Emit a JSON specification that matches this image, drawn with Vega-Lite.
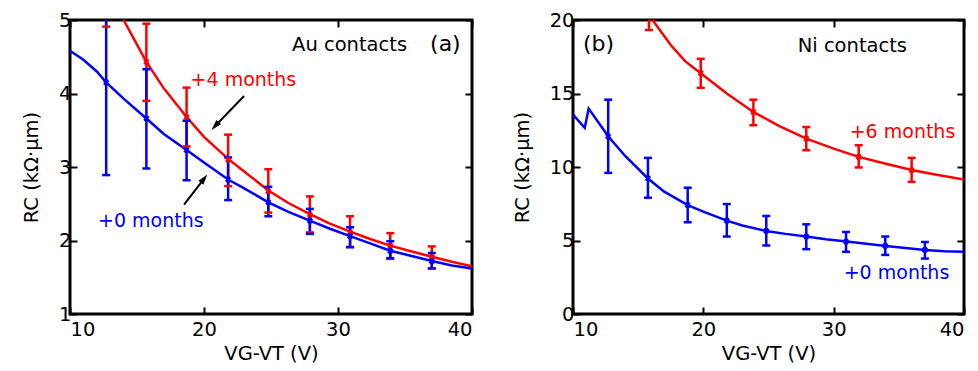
{
  "$schema": "https://vega.github.io/schema/vega-lite/v6.json",
  "padding": {"left": 20, "top": 8, "right": 5, "bottom": 5},
  "background": "white",
  "config": {
    "font": "DejaVu Sans",
    "view": {"stroke": "black", "strokeWidth": 3},
    "axis": {
      "domain": false, "grid": false,
      "tickSize": -7, "tickWidth": 2, "tickColor": "black",
      "labelFont": "DejaVu Sans", "labelFontSize": 19.5, "labelColor": "black", "labelPadding": 6,
      "titleFont": "DejaVu Sans", "titleFontSize": 19.5, "titleFontWeight": "normal", "titleColor": "black"
    },
    "axisBottom": {"labelPadding": 13},
    "concat": {"spacing": 101}
  },
  "datasets": {
    "aline": [
      {"s": "+4 months", "x": 13, "y": 5.35}, {"s": "+4 months", "x": 14, "y": 5.0}, {"s": "+4 months", "x": 15.7, "y": 4.43},
      {"s": "+4 months", "x": 17, "y": 4.07}, {"s": "+4 months", "x": 18.7, "y": 3.68}, {"s": "+4 months", "x": 20, "y": 3.41},
      {"s": "+4 months", "x": 21.8, "y": 3.11}, {"s": "+4 months", "x": 23, "y": 2.94}, {"s": "+4 months", "x": 24.8, "y": 2.68},
      {"s": "+4 months", "x": 26.3, "y": 2.51}, {"s": "+4 months", "x": 27.9, "y": 2.36}, {"s": "+4 months", "x": 29.4, "y": 2.23},
      {"s": "+4 months", "x": 30.9, "y": 2.12}, {"s": "+4 months", "x": 32.4, "y": 2.02}, {"s": "+4 months", "x": 33.9, "y": 1.93},
      {"s": "+4 months", "x": 35.5, "y": 1.85}, {"s": "+4 months", "x": 37, "y": 1.78}, {"s": "+4 months", "x": 38.5, "y": 1.71},
      {"s": "+4 months", "x": 40, "y": 1.65},
      {"s": "+0 months", "x": 10, "y": 4.58}, {"s": "+0 months", "x": 11, "y": 4.46}, {"s": "+0 months", "x": 12, "y": 4.3},
      {"s": "+0 months", "x": 12.7, "y": 4.15}, {"s": "+0 months", "x": 14, "y": 3.93}, {"s": "+0 months", "x": 15.7, "y": 3.66},
      {"s": "+0 months", "x": 17, "y": 3.45}, {"s": "+0 months", "x": 18.7, "y": 3.23}, {"s": "+0 months", "x": 20, "y": 3.06},
      {"s": "+0 months", "x": 21.8, "y": 2.83}, {"s": "+0 months", "x": 23, "y": 2.71}, {"s": "+0 months", "x": 24.8, "y": 2.52},
      {"s": "+0 months", "x": 26.3, "y": 2.39}, {"s": "+0 months", "x": 27.9, "y": 2.27}, {"s": "+0 months", "x": 29.4, "y": 2.16},
      {"s": "+0 months", "x": 30.9, "y": 2.06}, {"s": "+0 months", "x": 32.4, "y": 1.96}, {"s": "+0 months", "x": 33.9, "y": 1.86},
      {"s": "+0 months", "x": 35.5, "y": 1.79}, {"s": "+0 months", "x": 37, "y": 1.72}, {"s": "+0 months", "x": 38.5, "y": 1.66},
      {"s": "+0 months", "x": 40, "y": 1.62}
    ],
    "aerr": [
      {"s": "+4 months", "x": 12.7, "y": 5.6, "lo": 4.91, "hi": 6.3},
      {"s": "+4 months", "x": 15.7, "y": 4.43, "lo": 3.9, "hi": 4.95},
      {"s": "+4 months", "x": 18.7, "y": 3.68, "lo": 3.28, "hi": 4.08},
      {"s": "+4 months", "x": 21.8, "y": 3.1, "lo": 2.74, "hi": 3.44},
      {"s": "+4 months", "x": 24.8, "y": 2.67, "lo": 2.38, "hi": 2.97},
      {"s": "+4 months", "x": 27.9, "y": 2.35, "lo": 2.11, "hi": 2.6},
      {"s": "+4 months", "x": 30.9, "y": 2.11, "lo": 1.91, "hi": 2.33},
      {"s": "+4 months", "x": 33.9, "y": 1.93, "lo": 1.75, "hi": 2.1},
      {"s": "+4 months", "x": 37, "y": 1.78, "lo": 1.62, "hi": 1.92},
      {"s": "+0 months", "x": 12.7, "y": 4.15, "lo": 2.89, "hi": 5.41},
      {"s": "+0 months", "x": 15.7, "y": 3.66, "lo": 2.98, "hi": 4.33},
      {"s": "+0 months", "x": 18.7, "y": 3.23, "lo": 2.82, "hi": 3.63},
      {"s": "+0 months", "x": 21.8, "y": 2.83, "lo": 2.55, "hi": 3.13},
      {"s": "+0 months", "x": 24.8, "y": 2.52, "lo": 2.33, "hi": 2.73},
      {"s": "+0 months", "x": 27.9, "y": 2.27, "lo": 2.09, "hi": 2.43},
      {"s": "+0 months", "x": 30.9, "y": 2.06, "lo": 1.91, "hi": 2.18},
      {"s": "+0 months", "x": 33.9, "y": 1.86, "lo": 1.76, "hi": 1.99},
      {"s": "+0 months", "x": 37, "y": 1.72, "lo": 1.62, "hi": 1.83}
    ],
    "bline": [
      {"s": "+6 months", "x": 15.5, "y": 20.6}, {"s": "+6 months", "x": 16.1, "y": 20.0}, {"s": "+6 months", "x": 17.5, "y": 18.3},
      {"s": "+6 months", "x": 18.6, "y": 17.2}, {"s": "+6 months", "x": 19.8, "y": 16.38}, {"s": "+6 months", "x": 21.8, "y": 15.0},
      {"s": "+6 months", "x": 23.84, "y": 13.74}, {"s": "+6 months", "x": 25.8, "y": 12.8}, {"s": "+6 months", "x": 27.9, "y": 11.93},
      {"s": "+6 months", "x": 30, "y": 11.25}, {"s": "+6 months", "x": 31.92, "y": 10.69}, {"s": "+6 months", "x": 34, "y": 10.22},
      {"s": "+6 months", "x": 35.98, "y": 9.79}, {"s": "+6 months", "x": 38, "y": 9.45}, {"s": "+6 months", "x": 40, "y": 9.15},
      {"s": "+0 months", "x": 10, "y": 13.56}, {"s": "+0 months", "x": 10.9, "y": 12.66}, {"s": "+0 months", "x": 11.2, "y": 13.97},
      {"s": "+0 months", "x": 12.7, "y": 12.09}, {"s": "+0 months", "x": 14, "y": 10.75}, {"s": "+0 months", "x": 15.75, "y": 9.22},
      {"s": "+0 months", "x": 17, "y": 8.32}, {"s": "+0 months", "x": 18.8, "y": 7.41}, {"s": "+0 months", "x": 20, "y": 6.96},
      {"s": "+0 months", "x": 21.8, "y": 6.35}, {"s": "+0 months", "x": 23, "y": 6.02}, {"s": "+0 months", "x": 24.8, "y": 5.65},
      {"s": "+0 months", "x": 26.3, "y": 5.45}, {"s": "+0 months", "x": 27.9, "y": 5.27}, {"s": "+0 months", "x": 29.4, "y": 5.08},
      {"s": "+0 months", "x": 31, "y": 4.93}, {"s": "+0 months", "x": 32.5, "y": 4.78}, {"s": "+0 months", "x": 34, "y": 4.63},
      {"s": "+0 months", "x": 35.5, "y": 4.49}, {"s": "+0 months", "x": 37, "y": 4.36}, {"s": "+0 months", "x": 38.5, "y": 4.27},
      {"s": "+0 months", "x": 40, "y": 4.23}
    ],
    "berr": [
      {"s": "+6 months", "x": 15.83, "y": 20.3, "lo": 19.32, "hi": 21.3},
      {"s": "+6 months", "x": 19.8, "y": 16.38, "lo": 15.39, "hi": 17.36},
      {"s": "+6 months", "x": 23.84, "y": 13.74, "lo": 12.84, "hi": 14.58},
      {"s": "+6 months", "x": 27.9, "y": 11.93, "lo": 11.14, "hi": 12.72},
      {"s": "+6 months", "x": 31.92, "y": 10.69, "lo": 9.97, "hi": 11.48},
      {"s": "+6 months", "x": 35.98, "y": 9.79, "lo": 8.99, "hi": 10.62},
      {"s": "+0 months", "x": 12.7, "y": 12.09, "lo": 9.6, "hi": 14.58},
      {"s": "+0 months", "x": 15.75, "y": 9.22, "lo": 7.91, "hi": 10.62},
      {"s": "+0 months", "x": 18.8, "y": 7.41, "lo": 6.24, "hi": 8.59},
      {"s": "+0 months", "x": 21.8, "y": 6.35, "lo": 5.27, "hi": 7.48},
      {"s": "+0 months", "x": 24.83, "y": 5.65, "lo": 4.66, "hi": 6.67},
      {"s": "+0 months", "x": 27.9, "y": 5.27, "lo": 4.41, "hi": 6.1},
      {"s": "+0 months", "x": 30.95, "y": 4.93, "lo": 4.23, "hi": 5.58},
      {"s": "+0 months", "x": 33.96, "y": 4.63, "lo": 4.02, "hi": 5.27},
      {"s": "+0 months", "x": 37.0, "y": 4.36, "lo": 3.77, "hi": 4.9}
    ]
  },
  "hconcat": [
    {
      "width": 402, "height": 294,
      "resolve": {"axis": {"x": "independent", "y": "independent"}},
      "encoding": {
        "x": {"field": "x", "type": "quantitative", "scale": {"domain": [10, 40], "nice": false, "zero": false}, "axis": null}
      },
      "layer": [
        {
          "data": {"name": "aline"},
          "mark": {"type": "line", "strokeWidth": 2.5, "clip": true},
          "encoding": {
            "x": {"field": "x", "type": "quantitative", "scale": {"domain": [10, 40], "nice": false, "zero": false},
                  "axis": {"orient": "bottom", "values": [10, 20, 30, 40], "title": "VG-VT (V)", "titlePadding": 6}},
            "y": {"field": "y", "type": "quantitative", "scale": {"domain": [1, 5], "nice": false, "zero": false},
                  "axis": {"orient": "left", "values": [1, 2, 3, 4, 5], "title": "RC (kΩ·μm)", "titlePadding": 17}},
            "color": {"field": "s", "type": "nominal", "scale": {"domain": ["+0 months", "+4 months", "+6 months"], "range": ["#0000ff", "#ff0000", "#ff0000"]}, "legend": null}
          }
        },
        {
          "data": {"name": "aline"},
          "mark": {"type": "line", "opacity": 0, "clip": true},
          "encoding": {
            "x": {"field": "x", "type": "quantitative", "scale": {"domain": [10, 40], "nice": false, "zero": false},
                  "axis": {"orient": "top", "values": [10, 20, 30, 40], "labels": false, "title": null}},
            "y": {"field": "y", "type": "quantitative", "scale": {"domain": [1, 5], "nice": false, "zero": false},
                  "axis": {"orient": "right", "values": [1, 2, 3, 4, 5], "labels": false, "title": null}}
          }
        },
        {
          "data": {"name": "aerr"},
          "mark": {"type": "rule", "strokeWidth": 2.5, "clip": true},
          "encoding": {
            "y": {"field": "lo", "type": "quantitative", "scale": {"domain": [1, 5], "nice": false, "zero": false}, "axis": null},
            "y2": {"field": "hi"},
            "color": {"field": "s", "type": "nominal", "legend": null}
          }
        },
        {
          "data": {"name": "aerr"},
          "mark": {"type": "tick", "orient": "horizontal", "size": 8, "thickness": 2.5, "clip": true, "opacity": 1},
          "encoding": {
            "y": {"field": "lo", "type": "quantitative", "scale": {"domain": [1, 5], "nice": false, "zero": false}, "axis": null},
            "color": {"field": "s", "type": "nominal", "legend": null}
          }
        },
        {
          "data": {"name": "aerr"},
          "mark": {"type": "tick", "orient": "horizontal", "size": 8, "thickness": 2.5, "clip": true, "opacity": 1},
          "encoding": {
            "y": {"field": "hi", "type": "quantitative", "scale": {"domain": [1, 5], "nice": false, "zero": false}, "axis": null},
            "color": {"field": "s", "type": "nominal", "legend": null}
          }
        },
        {
          "data": {"name": "aerr"},
          "mark": {"type": "point", "shape": "cross", "angle": 45, "size": 40, "filled": true, "opacity": 1, "clip": true},
          "encoding": {
            "y": {"field": "y", "type": "quantitative", "scale": {"domain": [1, 5], "nice": false, "zero": false}, "axis": null},
            "color": {"field": "s", "type": "nominal", "legend": null}
          }
        },
        {
          "data": {"values": [{"x": 22.99, "y": 3.966, "x2": 20.83, "y2": 3.557}, {"x": 18.51, "y": 2.487, "x2": 20.01, "y2": 2.842}]},
          "mark": {"type": "rule", "strokeWidth": 2, "color": "black"},
          "encoding": {
            "y": {"field": "y", "type": "quantitative", "scale": {"domain": [1, 5], "nice": false, "zero": false}, "axis": null},
            "x2": {"field": "x2"},
            "y2": {"field": "y2"}
          }
        },
        {
          "data": {"values": [{"x": 20.83, "y": 3.557}]},
          "mark": {"type": "point", "shape": "M0,-1L0.6,1L-0.6,1Z", "size": 110, "filled": true, "color": "black", "opacity": 1, "angle": 223},
          "encoding": {
            "y": {"field": "y", "type": "quantitative", "scale": {"domain": [1, 5], "nice": false, "zero": false}, "axis": null}
          }
        },
        {
          "data": {"values": [{"x": 20.01, "y": 2.842}]},
          "mark": {"type": "point", "shape": "M0,-1L0.6,1L-0.6,1Z", "size": 110, "filled": true, "color": "black", "opacity": 1, "angle": 38},
          "encoding": {
            "y": {"field": "y", "type": "quantitative", "scale": {"domain": [1, 5], "nice": false, "zero": false}, "axis": null}
          }
        },
        {
          "data": {"values": [{"x": 19.0, "y": 4.18, "s": "+4 months", "t": "+4 months"}, {"x": 12.09, "y": 2.27, "s": "+0 months", "t": "+0 months"}]},
          "mark": {"type": "text", "align": "left", "baseline": "middle", "fontSize": 19, "font": "DejaVu Sans"},
          "encoding": {
            "y": {"field": "y", "type": "quantitative", "scale": {"domain": [1, 5], "nice": false, "zero": false}, "axis": null},
            "text": {"field": "t"},
            "color": {"field": "s", "type": "nominal", "legend": null}
          }
        },
        {
          "data": {"values": [{"x": 26.57, "y": 4.66, "t": "Au contacts"}]},
          "mark": {"type": "text", "align": "left", "baseline": "middle", "fontSize": 19.5, "font": "DejaVu Sans", "color": "black"},
          "encoding": {
            "y": {"field": "y", "type": "quantitative", "scale": {"domain": [1, 5], "nice": false, "zero": false}, "axis": null},
            "text": {"field": "t"}
          }
        },
        {
          "data": {"values": [{"x": 36.87, "y": 4.67, "t": "(a)"}]},
          "mark": {"type": "text", "align": "left", "baseline": "middle", "fontSize": 22, "font": "DejaVu Sans", "color": "black"},
          "encoding": {
            "y": {"field": "y", "type": "quantitative", "scale": {"domain": [1, 5], "nice": false, "zero": false}, "axis": null},
            "text": {"field": "t"}
          }
        }
      ]
    },
    {
      "width": 391, "height": 294,
      "resolve": {"axis": {"x": "independent", "y": "independent"}},
      "encoding": {
        "x": {"field": "x", "type": "quantitative", "scale": {"domain": [10, 40], "nice": false, "zero": false}, "axis": null}
      },
      "layer": [
        {
          "data": {"name": "bline"},
          "mark": {"type": "line", "strokeWidth": 2.5, "clip": true},
          "encoding": {
            "x": {"field": "x", "type": "quantitative", "scale": {"domain": [10, 40], "nice": false, "zero": false},
                  "axis": {"orient": "bottom", "values": [10, 20, 30, 40], "title": "VG-VT (V)", "titlePadding": 6}},
            "y": {"field": "y", "type": "quantitative", "scale": {"domain": [0, 20], "nice": false, "zero": false},
                  "axis": {"orient": "left", "values": [0, 5, 10, 15, 20], "title": "RC (kΩ·μm)", "titlePadding": 17}},
            "color": {"field": "s", "type": "nominal", "scale": {"domain": ["+0 months", "+4 months", "+6 months"], "range": ["#0000ff", "#ff0000", "#ff0000"]}, "legend": null}
          }
        },
        {
          "data": {"name": "bline"},
          "mark": {"type": "line", "opacity": 0, "clip": true},
          "encoding": {
            "x": {"field": "x", "type": "quantitative", "scale": {"domain": [10, 40], "nice": false, "zero": false},
                  "axis": {"orient": "top", "values": [10, 20, 30, 40], "labels": false, "title": null}},
            "y": {"field": "y", "type": "quantitative", "scale": {"domain": [0, 20], "nice": false, "zero": false},
                  "axis": {"orient": "right", "values": [0, 5, 10, 15, 20], "labels": false, "title": null}}
          }
        },
        {
          "data": {"name": "berr"},
          "mark": {"type": "rule", "strokeWidth": 2.5, "clip": true},
          "encoding": {
            "y": {"field": "lo", "type": "quantitative", "scale": {"domain": [0, 20], "nice": false, "zero": false}, "axis": null},
            "y2": {"field": "hi"},
            "color": {"field": "s", "type": "nominal", "legend": null}
          }
        },
        {
          "data": {"name": "berr"},
          "mark": {"type": "tick", "orient": "horizontal", "size": 8, "thickness": 2.5, "clip": true, "opacity": 1},
          "encoding": {
            "y": {"field": "lo", "type": "quantitative", "scale": {"domain": [0, 20], "nice": false, "zero": false}, "axis": null},
            "color": {"field": "s", "type": "nominal", "legend": null}
          }
        },
        {
          "data": {"name": "berr"},
          "mark": {"type": "tick", "orient": "horizontal", "size": 8, "thickness": 2.5, "clip": true, "opacity": 1},
          "encoding": {
            "y": {"field": "hi", "type": "quantitative", "scale": {"domain": [0, 20], "nice": false, "zero": false}, "axis": null},
            "color": {"field": "s", "type": "nominal", "legend": null}
          }
        },
        {
          "data": {"name": "berr"},
          "mark": {"type": "point", "shape": "cross", "angle": 45, "size": 40, "filled": true, "opacity": 1, "clip": true},
          "encoding": {
            "y": {"field": "y", "type": "quantitative", "scale": {"domain": [0, 20], "nice": false, "zero": false}, "axis": null},
            "color": {"field": "s", "type": "nominal", "legend": null}
          }
        },
        {
          "data": {"values": [{"x": 31.23, "y": 12.41, "s": "+6 months", "t": "+6 months"}, {"x": 30.77, "y": 2.78, "s": "+0 months", "t": "+0 months"}]},
          "mark": {"type": "text", "align": "left", "baseline": "middle", "fontSize": 19, "font": "DejaVu Sans"},
          "encoding": {
            "y": {"field": "y", "type": "quantitative", "scale": {"domain": [0, 20], "nice": false, "zero": false}, "axis": null},
            "text": {"field": "t"},
            "color": {"field": "s", "type": "nominal", "legend": null}
          }
        },
        {
          "data": {"values": [{"x": 27.24, "y": 18.24, "t": "Ni contacts"}]},
          "mark": {"type": "text", "align": "left", "baseline": "middle", "fontSize": 19.5, "font": "DejaVu Sans", "color": "black"},
          "encoding": {
            "y": {"field": "y", "type": "quantitative", "scale": {"domain": [0, 20], "nice": false, "zero": false}, "axis": null},
            "text": {"field": "t"}
          }
        },
        {
          "data": {"values": [{"x": 10.77, "y": 18.37, "t": "(b)"}]},
          "mark": {"type": "text", "align": "left", "baseline": "middle", "fontSize": 22, "font": "DejaVu Sans", "color": "black"},
          "encoding": {
            "y": {"field": "y", "type": "quantitative", "scale": {"domain": [0, 20], "nice": false, "zero": false}, "axis": null},
            "text": {"field": "t"}
          }
        }
      ]
    }
  ],
  "bounds": "flush"
}
